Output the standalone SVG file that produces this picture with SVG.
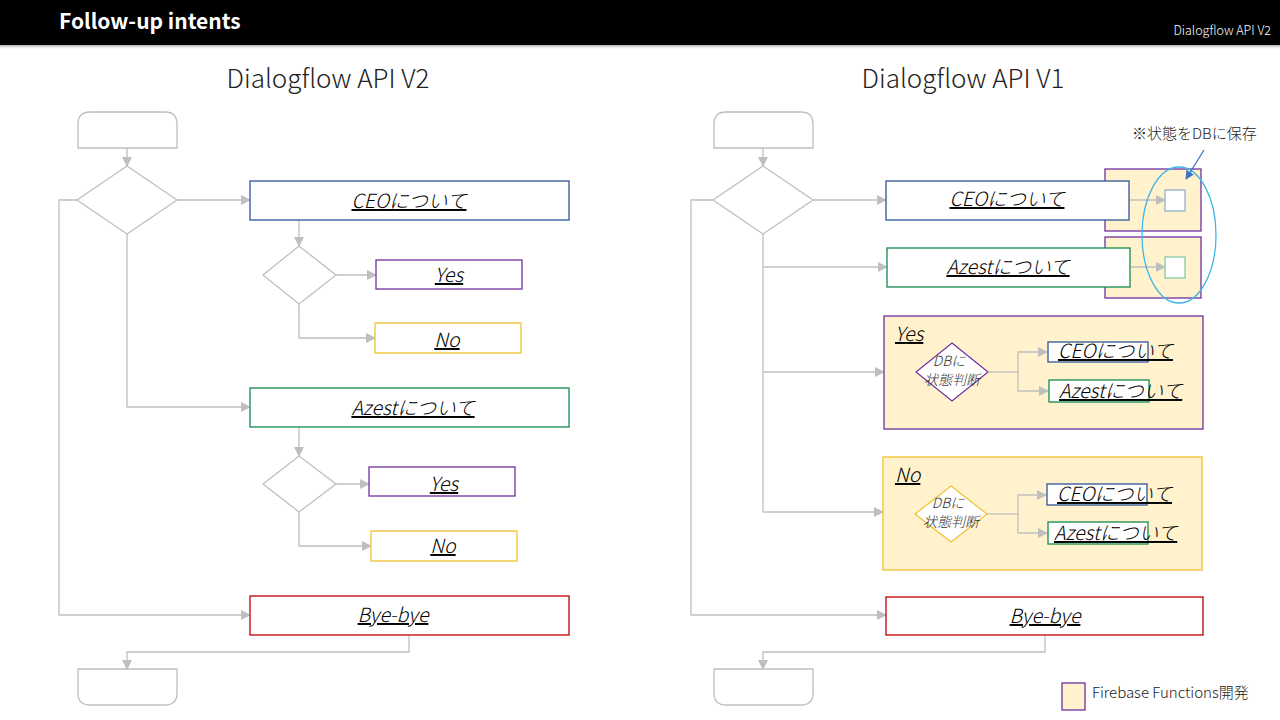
<svg xmlns="http://www.w3.org/2000/svg" width="1280" height="720" viewBox="0 0 1280 720">
<defs>
<marker id="ah" viewBox="0 0 10 10" refX="9" refY="5" markerWidth="10" markerHeight="10" markerUnits="userSpaceOnUse" orient="auto"><path d="M0,0 L10,5 L0,10 Z" fill="#BFBFBF"/></marker>
<marker id="ahb" viewBox="0 0 10 10" refX="9" refY="5" markerWidth="9" markerHeight="9" markerUnits="userSpaceOnUse" orient="auto"><path d="M0,0 L10,5 L0,10 Z" fill="#4472C4"/></marker>
<linearGradient id="sh" x1="0" y1="0" x2="0" y2="1"><stop offset="0" stop-color="#888"/><stop offset="1" stop-color="#fff" stop-opacity="0"/></linearGradient>
</defs>
<style>
.c{fill:none;stroke:#BFBFBF;stroke-width:1.3}
.ca{fill:none;stroke:#BFBFBF;stroke-width:1.3;marker-end:url(#ah)}
.term{fill:#fff;stroke:#BFBFBF;stroke-width:1.3}
.dia{fill:#fff;stroke:#BFBFBF;stroke-width:1.3}
.box{fill:#fff;stroke-width:1.3}
.blue{stroke:#2F5597}
.green{stroke:#138A4E}
.purple{stroke:#7030A0}
.gold{stroke:#F2C12E}
.red{stroke:#C00000}
.fb{fill:#FFF2CC}
.lbl{font-family:"Noto Sans CJK JP","Liberation Sans",sans-serif;font-weight:300;font-style:italic;text-decoration:underline;fill:#000;font-size:19.5px}
.h2{font-family:"Noto Sans CJK JP","Liberation Sans",sans-serif;font-weight:200;fill:#222;font-size:26px}
.sm{font-family:"Noto Sans CJK JP","Liberation Sans",sans-serif;font-weight:300;fill:#222;font-size:15px}
.dtx{font-family:"Noto Sans CJK JP","Liberation Sans",sans-serif;font-weight:300;font-style:italic;fill:#333;font-size:14px}
</style>
<rect width="1280" height="720" fill="#fff"/>
<rect x="0" y="44" width="1280" height="6" fill="url(#sh)"/>
<rect x="0" y="0" width="1280" height="45" fill="#000"/>
<text x="59" y="29" font-family="Noto Sans CJK JP, Liberation Sans, sans-serif" font-weight="700" font-size="21" fill="#fff">Follow-up intents</text>
<text x="1271" y="35" text-anchor="end" font-family="Noto Sans CJK JP, Liberation Sans, sans-serif" font-weight="300" font-size="12.5" fill="#fff">Dialogflow  API V2</text>
<text class="h2" x="328" y="88" text-anchor="middle">Dialogflow API V2</text>
<text class="h2" x="963" y="88" text-anchor="middle">Dialogflow API V1</text>

<g id="connectors">
<path class="ca" d="M127,148 V166"/>
<path class="ca" d="M177,200 H250"/>
<path class="ca" d="M299,220 V246"/>
<path class="ca" d="M336,275 H376"/>
<path class="ca" d="M299,304 V338 H375"/>
<path class="ca" d="M127,234 V407 H250"/>
<path class="ca" d="M299,427 V456"/>
<path class="ca" d="M336,484 H369"/>
<path class="ca" d="M299,512 V546 H371"/>
<path class="ca" d="M77,200 H59 V615 H250"/>
<path class="ca" d="M409,635 V652 H127 V669"/>

<path class="ca" d="M763,148 V166"/>
<path class="ca" d="M813,200 H886"/>
<path class="c" d="M763,234 V512"/>
<path class="ca" d="M763,267 H887"/>
<path class="ca" d="M763,372 H884"/>
<path class="ca" d="M763,512 H883"/>
<path class="ca" d="M713,200 H691 V615 H886"/>
<path class="ca" d="M1045,635 V652 H763 V669"/>
</g>

<g id="v2-start"><path class="term" d="M78,148 V124 Q78,112 90,112 H165 Q177,112 177,124 V148 Z"/></g>
<g id="v2-decision"><polygon class="dia" points="127,166 177,200 127,234 77,200"/></g>
<g id="v2-ceo"><rect class="box blue" x="250" y="181" width="319" height="39"/><text class="lbl" x="409" y="208" text-anchor="middle">CEOについて</text></g>
<g id="v2-dec-ceo"><polygon class="dia" points="299,246 336,275 299,304 263,275"/></g>
<g id="v2-ceo-yes"><rect class="box purple" x="376" y="260" width="146" height="29"/><text class="lbl" x="449" y="282" text-anchor="middle">Yes</text></g>
<g id="v2-ceo-no"><rect class="box gold" x="375" y="323" width="146" height="30"/><text class="lbl" x="447" y="347" text-anchor="middle">No</text></g>
<g id="v2-azest"><rect class="box green" x="250" y="388" width="319" height="39"/><text class="lbl" x="413" y="415" text-anchor="middle">Azestについて</text></g>
<g id="v2-dec-azest"><polygon class="dia" points="299,456 336,484 299,512 263,484"/></g>
<g id="v2-azest-yes"><rect class="box purple" x="369" y="467" width="146" height="29"/><text class="lbl" x="444" y="491" text-anchor="middle">Yes</text></g>
<g id="v2-azest-no"><rect class="box gold" x="371" y="531" width="146" height="30"/><text class="lbl" x="443" y="553" text-anchor="middle">No</text></g>
<g id="v2-bye"><rect class="box red" x="250" y="596" width="319" height="39"/><text class="lbl" x="393" y="622" text-anchor="middle">Bye-bye</text></g>
<g id="v2-end"><path class="term" d="M78,669 V693 Q78,705 90,705 H165 Q177,705 177,693 V669 Z"/></g>

<g id="v1-start"><path class="term" d="M714,148 V124 Q714,112 726,112 H801 Q813,112 813,124 V148 Z"/></g>
<g id="v1-decision"><polygon class="dia" points="763,166 813,200 763,234 713,200"/></g>
<g id="v1-fb1"><rect class="fb purple" x="1105" y="169" width="96" height="62" stroke-width="1.3"/></g>
<g id="v1-fb2"><rect class="fb purple" x="1105" y="237" width="96" height="61" stroke-width="1.3"/></g>
<g id="v1-ceo"><rect class="box blue" x="886" y="181" width="243" height="39"/><text class="lbl" x="1007" y="206" text-anchor="middle">CEOについて</text></g>
<g id="v1-azest"><rect class="box green" x="887" y="248" width="243" height="39"/><text class="lbl" x="1008" y="274" text-anchor="middle">Azestについて</text></g>
<g id="v1-db-links">
<path class="ca" d="M1130,200 H1165"/>
<path class="ca" d="M1131,267 H1165"/>
</g>
<g id="v1-db-ceo"><rect x="1165" y="190" width="20" height="21" fill="#fff" stroke="#8EA9C9" stroke-width="1.2"/></g>
<g id="v1-db-azest"><rect x="1165" y="257" width="20" height="21" fill="#fff" stroke="#7BC79A" stroke-width="1.2"/></g>
<g id="v1-db-note">
<ellipse cx="1179" cy="235" rx="37" ry="68" fill="none" stroke="#3FB6E8" stroke-width="1.3"/>
<text class="sm" x="1132" y="139">※状態をDBに保存</text>
<path d="M1204,150 L1186,179" stroke="#4472C4" stroke-width="1.3" fill="none" marker-end="url(#ahb)"/>
</g>

<g id="v1-yes">
<rect class="fb purple" x="884" y="316" width="319" height="113" stroke-width="1.3"/>
<text class="lbl" x="895" y="341">Yes</text>
<polygon points="952,343 988,372 952,401 916,372" fill="#fff" stroke="#7030A0" stroke-width="1.2"/>
<text class="dtx" x="949" y="366" text-anchor="middle">DBに</text>
<text class="dtx" x="952" y="385" text-anchor="middle">状態判断</text>
<path class="c" d="M988,372 H1018"/>
<path class="ca" d="M1018,372 V352 H1047"/>
<path class="ca" d="M1018,372 V391 H1048"/>
<rect class="box blue" x="1048" y="342" width="100" height="20"/>
<text class="lbl" x="1058" y="358">CEOについて</text>
<rect class="box green" x="1049" y="380" width="100" height="22"/>
<text class="lbl" x="1059" y="398">Azestについて</text>
</g>

<g id="v1-no">
<rect class="fb gold" x="883" y="457" width="319" height="113" stroke-width="1.3"/>
<text class="lbl" x="895" y="482">No</text>
<polygon points="951,486 987,514 951,542 915,514" fill="#fff" stroke="#F2C12E" stroke-width="1.2"/>
<text class="dtx" x="948" y="508" text-anchor="middle">DBに</text>
<text class="dtx" x="951" y="527" text-anchor="middle">状態判断</text>
<path class="c" d="M987,514 H1018"/>
<path class="ca" d="M1018,514 V495 H1046"/>
<path class="ca" d="M1018,514 V533 H1047"/>
<rect class="box blue" x="1047" y="484" width="100" height="21"/>
<text class="lbl" x="1057" y="501">CEOについて</text>
<rect class="box green" x="1048" y="522" width="100" height="22"/>
<text class="lbl" x="1054" y="540">Azestについて</text>
</g>

<g id="v1-bye"><rect class="box red" x="886" y="597" width="317" height="38"/><text class="lbl" x="1045" y="623" text-anchor="middle">Bye-bye</text></g>
<g id="v1-end"><path class="term" d="M714,669 V693 Q714,705 726,705 H801 Q813,705 813,693 V669 Z"/></g>

<g id="legend">
<rect class="fb purple" x="1062" y="683" width="23" height="27" stroke-width="1.3"/>
<text class="sm" x="1092" y="698">Firebase Functions開発</text>
</g>
</svg>
